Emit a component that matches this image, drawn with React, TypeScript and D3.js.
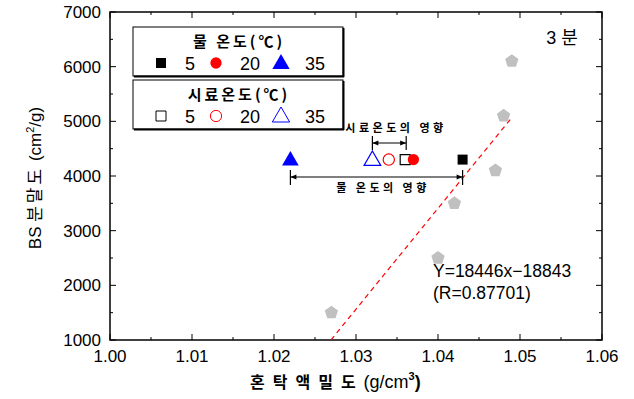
import React from 'react';
import * as d3 from 'd3';

// gray pentagons: data points
const densX = [1.027, 1.040, 1.042, 1.047, 1.048, 1.049];
const blaineY = [1500, 2500, 3500, 4100, 5100, 6100];

// water temperature (filled) and sample temperature (open) markers
const tempLabels = ['5', '20', '35'];
const waterX = [1.043, 1.037, 1.022];
const waterY = [4300, 4300, 4300];
const sampleX = [1.036, 1.034, 1.032];
const sampleY = [4300, 4300, 4300];
const colors = ['#000', '#ff0000', '#0000ff'];

const xTicks = [1.00, 1.01, 1.02, 1.03, 1.04, 1.05, 1.06];
const yTicks = [1000, 2000, 3000, 4000, 5000, 6000, 7000];

// fitted line (as drawn)
const fitSlope = 184460;
const fitIntercept = -188430;
const fitRange = [1.02695, 1.049];

const W = 634;
const H = 399;
const left = 110, right = 602, top = 12, bottom = 340;

const sym = (i: number, size: number) => {
  const types = [d3.symbolSquare, d3.symbolCircle, d3.symbolTriangle];
  return d3.symbol().type(types[i]).size(size)() as string;
};

const pentagon = (r: number) => {
  const pts = d3.range(5).map((k) => {
    const a = -Math.PI / 2 + (k * 2 * Math.PI) / 5;
    return [r * Math.cos(a), r * Math.sin(a)];
  });
  return 'M' + pts.map((p) => p.join(',')).join('L') + 'Z';
};

const App = () => {
  const x = d3.scaleLinear().domain([1.0, 1.06]).range([left, right]);
  const y = d3.scaleLinear().domain([1000, 7000]).range([bottom, top]);
  const xMinor = d3.range(1.005, 1.06, 0.01);
  const yMinor = d3.range(1500, 7000, 1000);
  const font = 'Liberation Sans, Arial, sans-serif';
  const kfont = '"Noto Sans CJK KR", sans-serif';
  const tl = 6;

  const line = d3.line<number>()
    .x((d) => x(d))
    .y((d) => y(fitSlope * d + fitIntercept));

  return (
    <svg width={W} height={H} style={{ position: 'absolute', left: 0, top: 0 }}>
      <rect width={W} height={H} fill="#fff" />
      {/* frame */}
      <rect x={left} y={top} width={right - left} height={bottom - top} fill="none" stroke="#000" strokeWidth={1.5} />
      {xTicks.map((t) => (
        <g key={'x' + t}>
          <line x1={x(t)} x2={x(t)} y1={bottom} y2={bottom - tl} stroke="#000" />
          <line x1={x(t)} x2={x(t)} y1={top} y2={top + tl} stroke="#000" />
          <text x={x(t)} y={bottom + 22} textAnchor="middle" fontFamily={font} fontSize={17}>{t.toFixed(2)}</text>
        </g>
      ))}
      {xMinor.map((t) => (
        <g key={'xm' + t}>
          <line x1={x(t)} x2={x(t)} y1={bottom} y2={bottom - 3} stroke="#000" />
          <line x1={x(t)} x2={x(t)} y1={top} y2={top + 3} stroke="#000" />
        </g>
      ))}
      {yTicks.map((t) => (
        <g key={'y' + t}>
          <line x1={left} x2={left + tl} y1={y(t)} y2={y(t)} stroke="#000" />
          <line x1={right} x2={right - tl} y1={y(t)} y2={y(t)} stroke="#000" />
          <text x={left - 9} y={y(t) + 6} textAnchor="end" fontFamily={font} fontSize={17}>{t}</text>
        </g>
      ))}
      {yMinor.map((t) => (
        <g key={'ym' + t}>
          <line x1={left} x2={left + 3} y1={y(t)} y2={y(t)} stroke="#000" />
          <line x1={right} x2={right - 3} y1={y(t)} y2={y(t)} stroke="#000" />
        </g>
      ))}

      {/* axis titles */}
      <text x={250} y={388} fontFamily={kfont} fontWeight="bold" fontSize={16} letterSpacing={8}>
        혼탁액밀도<tspan fontFamily={font} fontWeight="normal" fontSize={18} letterSpacing={0}>(g/cm</tspan><tspan fontFamily={font} fontSize={11} dy={-8} letterSpacing={0}>3</tspan><tspan fontFamily={font} fontSize={18} dy={8} letterSpacing={0}>)</tspan>
      </text>
      <text transform="translate(41,178) rotate(-90)" textAnchor="middle" fontFamily={font} fontSize={17}>
        BS <tspan fontFamily={kfont} letterSpacing={3}>분말도</tspan> (cm<tspan fontSize={11} dy={-7}>2</tspan><tspan dy={7}>/g)</tspan>
      </text>

      {/* fitted line */}
      <path d={line(fitRange) as string} fill="none" stroke="#ff0000" strokeWidth={1.2} strokeDasharray="5,4" />

      {/* data pentagons */}
      {densX.map((d, i) => (
        <path key={'p' + i} d={pentagon(7)} transform={`translate(${x(d)},${y(blaineY[i])})`} fill="#c0c0c0" />
      ))}

      {/* annotation arrows */}
      <defs>
        <marker id="ah" viewBox="0 0 10 10" refX={10} refY={5} markerWidth={9} markerHeight={6} orient="auto-start-reverse" markerUnits="userSpaceOnUse">
          <path d="M0,1L10,5L0,9Z" fill="#000" />
        </marker>
      </defs>
      <g stroke="#000" strokeWidth={1.2}>
        <line x1={x(sampleX[2])} x2={x(sampleX[0]) + 1} y1={143} y2={143} markerStart="url(#ah)" markerEnd="url(#ah)" />
        <line x1={x(sampleX[2])} x2={x(sampleX[2])} y1={136} y2={150} />
        <line x1={x(sampleX[0]) + 1} x2={x(sampleX[0]) + 1} y1={136} y2={150} />
        <line x1={x(waterX[2])} x2={x(waterX[0])} y1={177} y2={177} markerStart="url(#ah)" markerEnd="url(#ah)" />
        <line x1={x(waterX[2])} x2={x(waterX[2])} y1={170} y2={185} />
        <line x1={x(waterX[0])} x2={x(waterX[0])} y1={170} y2={185} />
      </g>
      <text x={396} y={132} textAnchor="middle" fontFamily={kfont} fontWeight="bold" fontSize={11} letterSpacing={3.5}>시료온도의 영향</text>
      <text x={383} y={192} textAnchor="middle" fontFamily={kfont} fontWeight="bold" fontSize={11} letterSpacing={3.5}>물 온도의 영향</text>

      {/* markers */}
      {sampleX.map((d, i) => (
        <path key={'s' + i} d={sym(i, i === 2 ? 120 : 100)} transform={`translate(${x(d)},${y(sampleY[i]) + (i === 2 ? 1 : 0)})`} fill="#fff" stroke={colors[i]} strokeWidth={1.2} />
      ))}
      {waterX.map((d, i) => (
        <path key={'w' + i} d={sym(i, i === 2 ? 120 : 100)} transform={`translate(${x(d)},${y(waterY[i]) + (i === 2 ? 1 : 0)})`} fill={colors[i]} />
      ))}

      {/* legends */}
      {[0, 1].map((b) => {
        const by = b === 0 ? 27 : 80;
        const title = b === 0 ? '물 온도(℃)' : '시료온도(℃)';
        return (
          <g key={'lg' + b}>
            <rect x={133} y={by} width={210} height={49} fill="#fff" stroke="#000" strokeWidth={1} />
            <line x1={343.5} x2={343.5} y1={by + 1} y2={by + 50} stroke="#000" strokeWidth={2} />
            <line x1={134} x2={344} y1={by + 49.5} y2={by + 49.5} stroke="#000" strokeWidth={2} />
            <text x={239} y={by + 20} textAnchor="middle" fontFamily={kfont} fontWeight="bold" fontSize={15} letterSpacing={3}>{title}</text>
            {tempLabels.map((lab, i) => {
              const mx = [161, 216, 281][i];
              const tx = [190, 250, 315][i];
              const my = by + 36;
              return (
                <g key={lab}>
                  <path d={sym(i, i === 2 ? 130 : 100)} transform={`translate(${mx},${my + (i === 2 ? 1 : 0)})`}
                    fill={b === 0 ? colors[i] : '#fff'} stroke={b === 0 ? 'none' : colors[i]} strokeWidth={1} />
                  <text x={tx} y={my + 6.5} textAnchor="middle" fontFamily={font} fontSize={18}>{lab}</text>
                </g>
              );
            })}
          </g>
        );
      })}

      <text x={562} y={44} textAnchor="middle" fontFamily={font} fontSize={18}>
        3 <tspan fontFamily={kfont}>분</tspan>
      </text>
      <text x={433} y={277} fontFamily={font} fontSize={17.5}>Y=18446x−18843</text>
      <text x={433} y={299} fontFamily={font} fontSize={17.5}>(R=0.87701)</text>
    </svg>
  );
};

export default App;
